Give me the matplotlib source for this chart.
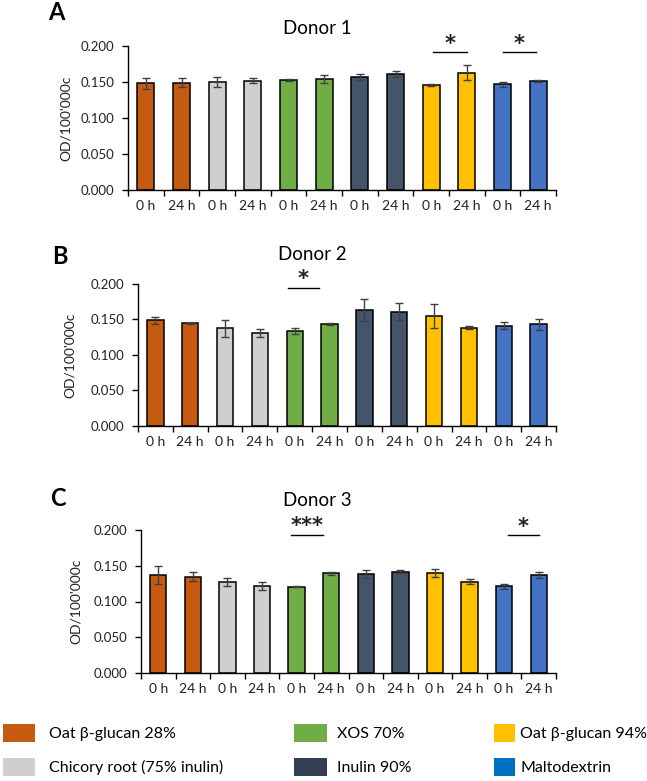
import numpy as np
import matplotlib
matplotlib.use('Agg')
import matplotlib.pyplot as plt
from matplotlib.patches import Patch

plt.rcParams['font.family'] = ['Lato', 'DejaVu Sans']

# data
groups = ['Oat β-glucan 28%', 'Chicory root (75% inulin)', 'XOS 70%',
          'Inulin 90%', 'Oat β-glucan 94%', 'Maltodextrin']
times = ['0 h', '24 h']
bar_colors = ['#C55A11', '#D0CECE', '#70AD47', '#44546A', '#FFC000', '#4472C4']
legend_colors = ['#C55A11', '#D0CECE', '#70AD47', '#333F50', '#FFC000', '#0070C0']

donor1_mean = [0.148, 0.149, 0.1505, 0.152, 0.153, 0.154, 0.157, 0.161, 0.1463, 0.163, 0.1468, 0.152]
donor1_err = [0.0074, 0.0063, 0.0069, 0.0032, 0.0012, 0.0058, 0.0039, 0.0046, 0.0012, 0.0102, 0.0035, 0.0014]
donor2_mean = [0.1488, 0.1447, 0.1377, 0.1307, 0.134, 0.1437, 0.163, 0.161, 0.155, 0.1386, 0.141, 0.143]
donor2_err = [0.0051, 0.001, 0.012, 0.006, 0.0045, 0.001, 0.0153, 0.012, 0.017, 0.002, 0.005, 0.0077]
donor3_mean = [0.1373, 0.1345, 0.1276, 0.1215, 0.1206, 0.1392, 0.1387, 0.1415, 0.1397, 0.1276, 0.121, 0.1364]
donor3_err = [0.0123, 0.0063, 0.0053, 0.0058, 0.001, 0.002, 0.0058, 0.0023, 0.0058, 0.0037, 0.003, 0.0042]

# significance: (start, end, line y, label)
donor1_sig = [(8.05, 9.0, 0.1912, '*'), (10.0, 10.95, 0.1912, '*')]
donor2_sig = [(3.8, 4.7, 0.1944, '*')]
donor3_sig = [(3.85, 4.75, 0.1935, '***'), (10.1, 11.0, 0.1925, '*')]

W, H = 647, 781
fig = plt.figure(figsize=(W / 100, H / 100), dpi=100)


def frac(l, r, t, b):
    return [l / W, 1 - b / H, (r - l) / W, (b - t) / H]


panels = [
    ('A', 'Donor 1', donor1_mean, donor1_err, donor1_sig, (128, 556, 46, 190), (56, 12), (317, 29), 72),
    ('B', 'Donor 2', donor2_mean, donor2_err, donor2_sig, (138, 556, 284, 426), (60, 256), (312, 254), 76),
    ('C', 'Donor 3', donor3_mean, donor3_err, donor3_sig, (141, 556, 530, 673), (58, 498), (317, 500), 82),
]

labels = [t for g in groups for t in times]
colors = [c for c in bar_colors for t in times]
x = np.arange(len(labels))

for letter, title, mean, err, sig, box, lpos, tpos, ylx in panels:
    ax = fig.add_axes(frac(*box))
    ax.bar(x, mean, width=0.47, color=colors, edgecolor='black', linewidth=1.1, zorder=2)
    ax.errorbar(x, mean, yerr=err, fmt='none', ecolor='#404040', elinewidth=1.0, capsize=3, capthick=1.0, zorder=3)
    ax.set_xlim(-0.5, len(labels) - 0.5)
    ax.set_ylim(0, 0.2)
    ax.set_yticks([0, 0.05, 0.1, 0.15, 0.2])
    ax.set_yticklabels(['0.000', '0.050', '0.100', '0.150', '0.200'], fontsize=9.5, color='#222222')
    ax.set_xticks(x)
    ax.set_xticklabels(labels, fontsize=10, color='#222222')
    ax.set_xticks(np.arange(len(labels) + 1) - 0.5, minor=True)
    ax.tick_params(axis='x', which='major', length=0, pad=7)
    ax.tick_params(axis='x', which='minor', length=4, direction='out', width=1)
    ax.tick_params(axis='y', length=4, direction='out', width=1, pad=6)
    for s in ['top', 'right']:
        ax.spines[s].set_visible(False)
    ax.spines['left'].set_linewidth(1)
    ax.spines['bottom'].set_linewidth(1)
    ax.set_ylabel("OD/100'000c", fontsize=10, color='#222222')
    ax.yaxis.set_label_coords((ylx - box[0]) / (box[1] - box[0]), 0.5)

    for x0, x1, y, s in sig:
        ax.plot([x0, x1], [y, y], color='black', lw=1, clip_on=False)
        ax.annotate(s, ((x0 + x1) / 2, y), xytext=(0, 2), textcoords='offset points',
                    ha='center', va='baseline', fontsize=15, fontweight='bold',
                    family='DejaVu Sans', color='#222222', annotation_clip=False)

    fig.text(lpos[0] / W, 1 - lpos[1] / H, letter, fontsize=17, fontweight='bold', ha='center', va='center')
    fig.text(tpos[0] / W, 1 - tpos[1] / H, title, fontsize=13.5, ha='center', va='center')

# legend: one small legend per entry so every cell sits where the reference has it
fs = 11.5
fs_px = fs * 100 / 72
cells = [  # (patch left x, row centre y, patch width, text gap)
    (3, 733, 32, 14), (3, 767, 32, 14),
    (294, 733, 33, 10), (294, 767, 33, 10),
    (494, 733, 21, 5), (494, 767, 21, 5),
]
for k, (px, py, pw, gap) in enumerate(cells):
    h = [Patch(facecolor=legend_colors[k], edgecolor='none')]
    fig.legend(h, [groups[k]], loc='center left', bbox_to_anchor=(px / W, 1 - py / H),
               frameon=False, fontsize=fs, handlelength=pw / fs_px, handleheight=21 / fs_px,
               handletextpad=gap / fs_px, borderaxespad=0, borderpad=0)

fig.savefig('out.png', dpi=100)
